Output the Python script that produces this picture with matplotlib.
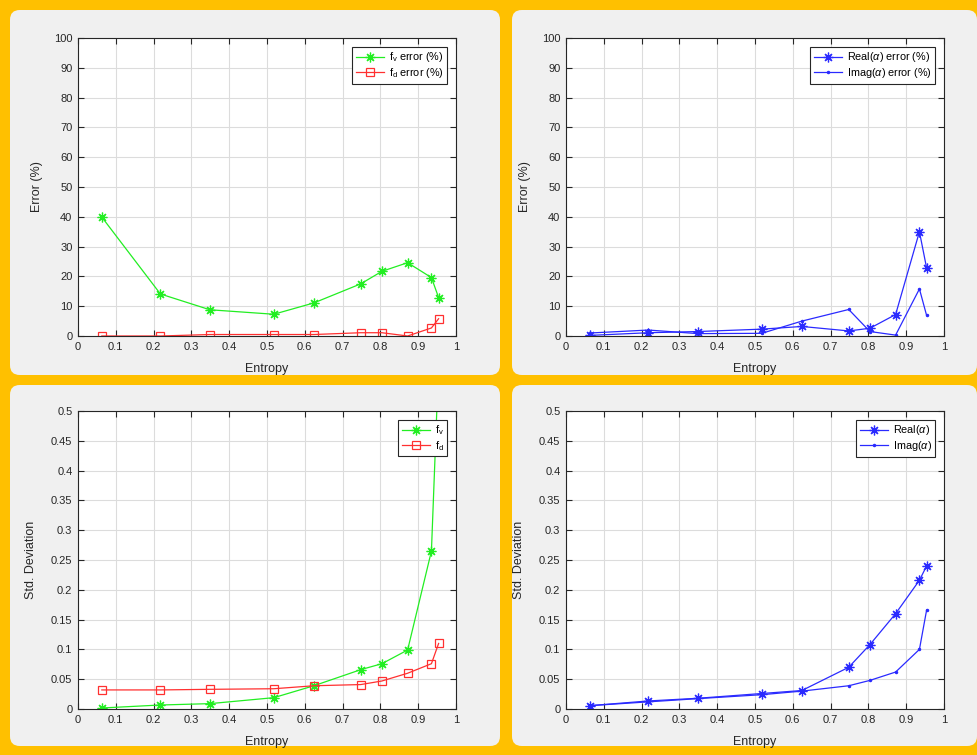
import matplotlib
matplotlib.use("Agg")
import matplotlib.pyplot as plt
from matplotlib.patches import FancyBboxPatch
from matplotlib.ticker import MultipleLocator, FuncFormatter

# ---------------- data ----------------
entropy = [0.063, 0.218, 0.349, 0.518, 0.624, 0.748, 0.804, 0.872, 0.935, 0.954]

fv_err = [39.9, 14.1, 8.8, 7.3, 11.1, 17.5, 21.7, 24.6, 19.6, 12.9]
fd_err = [0.0, 0.0, 0.5, 0.5, 0.5, 1.1, 1.1, 0.0, 2.7, 5.8]

real_err = [0.2, 1.1, 1.5, 2.3, 3.2, 1.7, 2.6, 7.2, 35.0, 22.8]
imag_err = [1.0, 2.0, 0.8, 0.9, 5.0, 8.9, 1.5, 0.3, 15.8, 6.9]

fv_std = [0.0017, 0.0067, 0.009, 0.019, 0.039, 0.066, 0.076, 0.099, 0.265, 0.58]
fd_std = [0.032, 0.032, 0.033, 0.034, 0.039, 0.041, 0.047, 0.060, 0.076, 0.110]

real_std = [0.0056, 0.0135, 0.018, 0.026, 0.031, 0.070, 0.108, 0.160, 0.216, 0.240]
imag_std = [0.0056, 0.012, 0.0174, 0.024, 0.030, 0.039, 0.048, 0.062, 0.100, 0.166]

x_label = "Entropy"
err_label = "Error (%)"
std_label = "Std. Deviation"

plt.rcParams['font.family'] = ['Liberation Sans', 'DejaVu Sans']
plt.rcParams['mathtext.fontset'] = 'custom'
plt.rcParams['mathtext.rm'] = 'Liberation Sans'
plt.rcParams['mathtext.it'] = 'Liberation Sans:italic'

W, H = 977, 755
fig = plt.figure(figsize=(W / 100, H / 100), dpi=100)
fig.patch.set_facecolor('#FFC000')

# panel backgrounds (pixel boxes: x0, y0_top, x1, y1_bottom)
panels = [(10, 10, 500, 375), (512, 10, 977, 375), (10, 385, 500, 746), (512, 385, 977, 746)]
for (x0, y0, x1, y1) in panels:
    p = FancyBboxPatch((x0 / W, 1 - y1 / H), (x1 - x0) / W, (y1 - y0) / H,
                       boxstyle="round,pad=0,rounding_size=0.01",
                       mutation_aspect=W / H,
                       transform=fig.transFigure, facecolor='#F0F0F0',
                       edgecolor='none', zorder=-10)
    fig.patches.append(p)

GREEN = '#22ee22'
RED = '#ff3030'
BLUE = '#2a2aff'
DARK = '#262626'

ast = (8, 2, 0)

def ax_rect(x0, y0, x1, y1):
    return [x0 / W, 1 - y1 / H, (x1 - x0) / W, (y1 - y0) / H]

def style(ax, ymax, ystep, ylabel, ypad):
    ax.set_zorder(5)
    ax.set_xlim(0, 1)
    ax.set_ylim(0, ymax)
    ax.xaxis.set_major_locator(MultipleLocator(0.1))
    ax.yaxis.set_major_locator(MultipleLocator(ystep))
    ax.xaxis.set_major_formatter(FuncFormatter(lambda v, p: '%g' % round(v, 3)))
    ax.yaxis.set_major_formatter(FuncFormatter(lambda v, p: '%g' % round(v, 3)))
    ax.grid(True, color='#dcdcdc', linewidth=0.8)
    ax.set_axisbelow(True)
    ax.tick_params(direction='in', top=True, right=True, length=4, width=0.8,
                   labelsize=8, colors=DARK, pad=4)
    for s in ax.spines.values():
        s.set_color(DARK)
        s.set_linewidth(0.8)
    ax.set_xlabel(x_label, fontsize=9, color=DARK, labelpad=8)
    ax.set_ylabel(ylabel, fontsize=9, color=DARK, labelpad=ypad)

def legend(ax):
    lg = ax.legend(loc='upper right', fontsize=7.8, fancybox=False, framealpha=1,
                   edgecolor=DARK, handlelength=2.6, borderpad=0.35,
                   labelspacing=0.15, handletextpad=0.4, borderaxespad=0.8)
    lg.get_frame().set_linewidth(0.8)
    return lg

# top-left
ax1 = fig.add_axes(ax_rect(78, 38, 456, 336))
ax1.plot(entropy, fv_err, color=GREEN, lw=0.9, marker=ast, ms=7, mew=0.9,
         label=r'f$_\mathregular{v}$ error (%)')
ax1.plot(entropy, fd_err, color=RED, lw=0.9, marker='s', ms=5.5, mfc='none', mew=0.9,
         label=r'f$_\mathregular{d}$ error (%)')
style(ax1, 100, 10, err_label, 8)
legend(ax1)

# top-right
ax2 = fig.add_axes(ax_rect(566, 38, 944, 336))
ax2.plot(entropy, real_err, color=BLUE, lw=0.9, marker=ast, ms=7, mew=0.9,
         label=r'Real($\alpha$) error (%)')
ax2.plot(entropy, imag_err, color=BLUE, lw=0.9, marker='.', ms=3,
         label=r'Imag($\alpha$) error (%)')
style(ax2, 100, 10, err_label, 8)
legend(ax2)

# bottom-left
ax3 = fig.add_axes(ax_rect(78, 411, 456, 709))
ax3.plot(entropy, fv_std, color=GREEN, lw=0.9, marker=ast, ms=7, mew=0.9,
         label=r'f$_\mathregular{v}$')
ax3.plot(entropy, fd_std, color=RED, lw=0.9, marker='s', ms=5.5, mfc='none', mew=0.9,
         label=r'f$_\mathregular{d}$')
style(ax3, 0.5, 0.05, std_label, 10)
legend(ax3)

# bottom-right
ax4 = fig.add_axes(ax_rect(566, 411, 944, 709))
ax4.plot(entropy, real_std, color=BLUE, lw=0.9, marker=ast, ms=7, mew=0.9,
         label=r'Real($\alpha$)')
ax4.plot(entropy, imag_std, color=BLUE, lw=0.9, marker='.', ms=3,
         label=r'Imag($\alpha$)')
style(ax4, 0.5, 0.05, std_label, 10)
legend(ax4)

fig.savefig('out.png', dpi=100, facecolor=fig.get_facecolor())
